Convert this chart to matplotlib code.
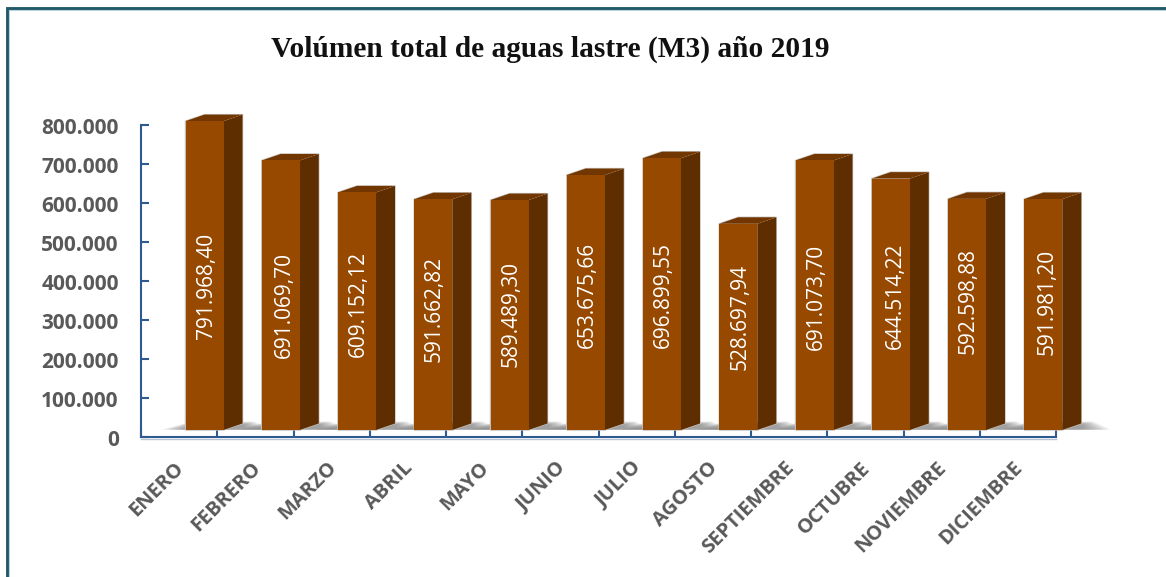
import matplotlib.pyplot as plt
from matplotlib.lines import Line2D
from matplotlib.patches import Polygon
from matplotlib.ticker import FuncFormatter
from matplotlib.transforms import ScaledTranslation

meses = ['ENERO', 'FEBRERO', 'MARZO', 'ABRIL', 'MAYO', 'JUNIO', 'JULIO', 'AGOSTO',
         'SEPTIEMBRE', 'OCTUBRE', 'NOVIEMBRE', 'DICIEMBRE']
volumen = [791968.40, 691069.70, 609152.12, 591662.82, 589489.30, 653675.66,
           696899.55, 528697.94, 691073.70, 644514.22, 592598.88, 591981.20]
etiquetas = ['791.968,40', '691.069,70', '609.152,12', '591.662,82', '589.489,30', '653.675,66',
             '696.899,55', '528.697,94', '691.073,70', '644.514,22', '592.598,88', '591.981,20']
marcas_y = [0, 100000, 200000, 300000, 400000, 500000, 600000, 700000, 800000]

# las etiquetas estan colocadas a mano en el original (pixeles)
etiqueta_x = [206.5, 284.5, 358.5, 434.5, 511.5, 587.5, 663.5, 740.5, 816.5, 895, 968.5, 1047]
etiqueta_y = [286, 304.5, 304, 309, 314, 295, 294.5, 317, 297, 296, 301, 302]

W, H = 1166, 577
fig = plt.figure(figsize=(W / 100, H / 100), dpi=100, facecolor='white')

# marco: solo arriba e izquierda
fx = [7 / W, 7 / W, 1]
fy = [0, 1 - 8 / H, 1 - 8 / H]
fig.add_artist(Line2D([f + 1 / W for f in fx[:2]] + [1], [0, 1 - 9 / H, 1 - 9 / H], color='#a9c6cf', lw=2.6,
                      solid_joinstyle='miter'))
fig.add_artist(Line2D(fx, fy, color='#215868', lw=2.0, solid_joinstyle='miter'))

x0, x1, y0, y1 = 141, 1056, 437, 125
ax = fig.add_axes([x0 / W, 1 - y0 / H, (x1 - x0) / W, (y0 - y1) / H])
ax.set_xlim(0, 12)
ax.set_ylim(0, 800000)
ax.patch.set_alpha(0)

px_x = (x1 - x0) / 12
px_y = 800000 / (y0 - y1)
ancho = 38 / px_x
centro = 63.5 / px_x
base = 7 * px_y
dx = 19 / px_x
dy = 6.5 * px_y

# sombra del suelo
for k in range(12):
    s = k / 12
    ext = (1 - s) * 30 / px_x
    for i in range(12):
        izq = i + centro - ancho / 2
        der = izq + ancho
        sh = [(izq - ext * 0.8, base + 0.3 * px_y), (der + dx + ext, base + 0.3 * px_y),
              (der + dx + ext * 0.4, base + dy * (1.3 - 0.5 * s)), (izq + dx * 0.3, base + dy * (1.3 - 0.5 * s))]
        ax.add_patch(Polygon(sh, closed=True, fc='#707070', ec='none', alpha=0.08, zorder=1, clip_on=False))

for i, v in enumerate(volumen):
    c = i + centro
    izq, der = c - ancho / 2, c + ancho / 2
    tope = base + v
    # halo gris alrededor de la columna
    ax.add_patch(Polygon([(izq, base), (der, base), (der + dx, base + dy), (der + dx, tope + dy), (izq + dx, tope + dy), (izq, tope)],
                         closed=True, fc='none', ec='#c4bfba', lw=1.0, zorder=2, clip_on=False))
    ax.add_patch(Polygon([(der, base), (der + dx, base + dy), (der + dx, tope + dy), (der, tope)],
                         closed=True, fc='#5f2e00', ec='none', zorder=3, clip_on=False))
    ax.add_patch(Polygon([(izq, tope), (izq + dx, tope + dy), (der + dx, tope + dy), (der, tope)],
                         closed=True, fc='#723700', ec='none', zorder=3, clip_on=False))
    ax.bar(c, v, ancho, bottom=base, color='#974900', linewidth=0, zorder=4, clip_on=False)
    ax.text((etiqueta_x[i] - x0) / px_x, (y0 - etiqueta_y[i]) * px_y, etiquetas[i], rotation=90, ha='center', va='center',
            color='white', fontsize=15, family='Open Sans', zorder=5)

azul = '#2c5a91'
for lado in ['top', 'right']:
    ax.spines[lado].set_visible(False)
for lado in ['left', 'bottom']:
    ax.spines[lado].set_color(azul)
    ax.spines[lado].set_linewidth(1.5)
ax.plot([0, 12], [-1.6 * px_y, -1.6 * px_y], color='#b8c4d4', lw=1.0, clip_on=False, zorder=1)

ax.set_yticks(marcas_y)
ax.yaxis.set_major_formatter(FuncFormatter(lambda v, p: f'{int(v):,}'.replace(',', '.')))
ax.tick_params(axis='y', direction='in', length=6, width=1.5, color=azul, labelcolor='#595959', pad=16)
for t in ax.get_yticklabels():
    t.set_fontfamily('Open Sans')
    t.set_fontweight('bold')
    t.set_fontsize(15)
    t.set_transform(t.get_transform() + ScaledTranslation(0, -1 / 100, fig.dpi_scale_trans))

ax.set_xticks(range(13))
ax.set_xticklabels([])
ax.tick_params(axis='x', which='major', direction='in', length=7, width=1.5, color=azul)
ax.set_xticks([i + 0.5 for i in range(12)], minor=True)
ax.set_xticklabels(meses, minor=True, rotation=45, ha='right', rotation_mode='anchor',
                   fontsize=14.5, fontweight='bold', family='Open Sans', color='#595959')
ax.tick_params(axis='x', which='minor', length=0, pad=15)
mover = ScaledTranslation(-5 / 100, 0, fig.dpi_scale_trans)
for t in ax.get_xticklabels(minor=True):
    t.set_transform(t.get_transform() + mover)

fig.text(550 / W, 1 - 49 / H, 'Volúmen total de aguas lastre (M3) año 2019', ha='center', va='center',
         fontsize=21.2, fontweight='bold', family='Liberation Serif', color='#111111')

fig.savefig('out.png', dpi=100)
